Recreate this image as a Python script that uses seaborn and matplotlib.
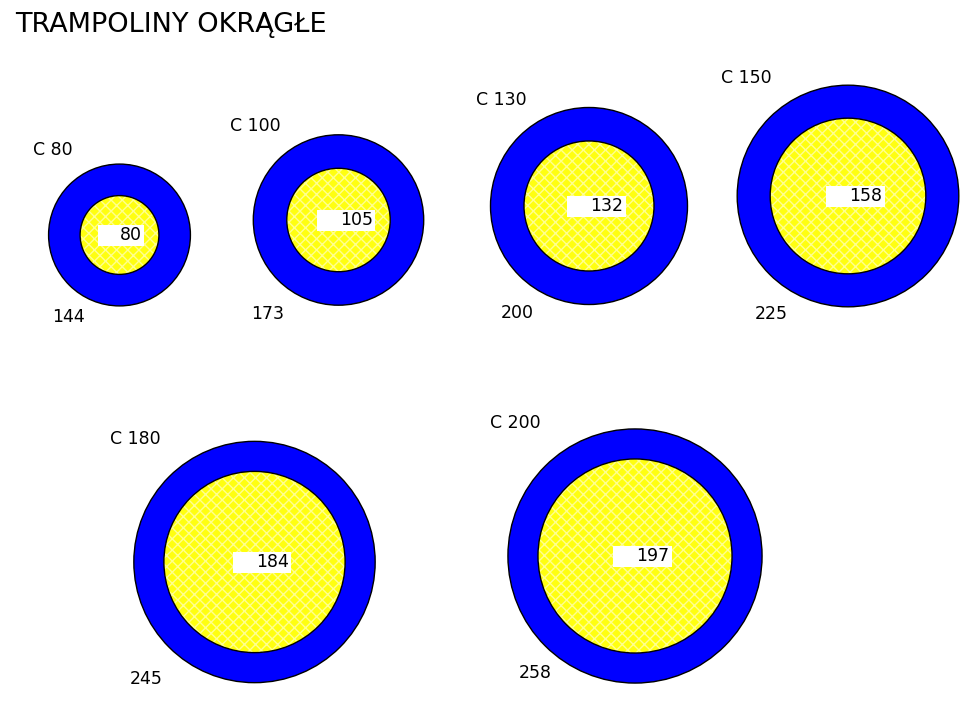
import seaborn as sns
from matplotlib import pyplot as plt
from matplotlib.patches import Circle, Rectangle

# dane: modele trampolin, srednica zewnetrzna i srednica siatki (cm)
models = ['C 80', 'C 100', 'C 130', 'C 150', 'C 180', 'C 200']
outer_size = [144, 173, 200, 225, 245, 258]
inner_size = [80, 105, 132, 158, 184, 197]

# uklad na rysunku (piksele)
centers = [(119.5, 235), (338.5, 220), (589, 206), (848, 196), (254.5, 562), (635, 556)]
name_pos = [(33, 150), (230, 126), (476, 100), (721, 78), (110, 439), (490, 423)]
outer_pos = [(52, 317), (251, 314), (501, 313), (755, 314), (130, 679), (519, 673)]
scale = 0.985

sns.set_theme(style='white')
plt.rcParams['font.family'] = ['DejaVu Sans']
plt.rcParams['text.color'] = 'black'

fig = plt.figure(figsize=(9.8, 7.11), dpi=100)
ax = fig.add_axes([0, 0, 1, 1])
ax.set_xlim(0, 980)
ax.set_ylim(711, 0)
ax.set_aspect('equal')
ax.axis('off')

for i, name in enumerate(models):
    cx, cy = centers[i]
    r_out = outer_size[i] / 2 * scale
    r_in = inner_size[i] / 2 * scale
    ax.add_patch(Circle((cx, cy), r_out, facecolor='#0000FF', edgecolor='black', linewidth=1))
    ax.add_patch(Circle((cx, cy), r_in, facecolor='#FFFF10', edgecolor='#FFFF90',
                        hatch='xxx', linewidth=0))
    ax.add_patch(Circle((cx, cy), r_in, facecolor='none', edgecolor='black', linewidth=1))

    label = str(inner_size[i])
    w = 21 + 12.5 * len(label)
    ax.add_patch(Rectangle((cx - 22, cy - 10.5), w, 21, facecolor='white', edgecolor='none'))
    ax.text(cx - 22 + w - 2, cy, label, ha='right', va='center', fontsize=12.5)

    ax.text(name_pos[i][0], name_pos[i][1], name, ha='left', va='center', fontsize=12.5)
    ax.text(outer_pos[i][0], outer_pos[i][1], str(outer_size[i]), ha='left', va='center',
            fontsize=12.5)

ax.text(15, 25, 'TRAMPOLINY OKRĄGŁE', ha='left', va='center', fontsize=19.5)

plt.savefig('out.png', dpi=100)
